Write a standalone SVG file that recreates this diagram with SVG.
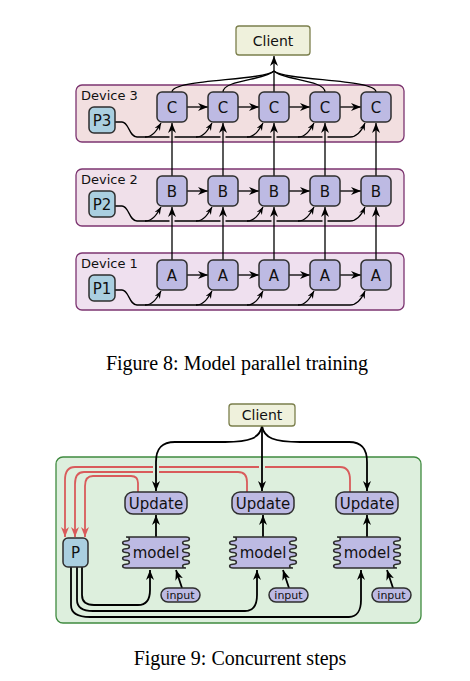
<svg xmlns="http://www.w3.org/2000/svg" width="470" height="681" viewBox="0 0 470 681">
<style>
.node{fill:#bdbae3;stroke:#2e2e2e;stroke-width:1.5}
.pnode{fill:#aacfe0;stroke:#2e2e2e;stroke-width:1.5}
.client{fill:#eff1dc;stroke:#7b7f4c;stroke-width:1.3}
.dev{stroke:#7c3470;stroke-width:1.3}
.lbl{font-family:"DejaVu Sans",sans-serif;fill:#111;text-anchor:middle}
.n15{font-size:15px}
.n14{font-size:14px}
.dl{font-family:"DejaVu Sans",sans-serif;font-size:13px;fill:#111}
.ln{fill:none;stroke:#000;stroke-width:1.3}
.ln2{fill:none;stroke:#000;stroke-width:1.8}
.red{fill:none;stroke:#d95b5b;stroke-width:1.8}
.cap{font-family:"Liberation Serif","Times New Roman",serif;font-size:20px;text-anchor:middle;fill:#000}
</style>
<defs>
<marker id="ah" viewBox="0 0 10 8" refX="10" refY="4" markerWidth="10" markerHeight="8" markerUnits="userSpaceOnUse" orient="auto"><path d="M0,0 L10,4 L0,8 L3,4 z" fill="#000"/></marker>
<marker id="as" viewBox="0 0 10 8" refX="10" refY="4" markerWidth="7.5" markerHeight="6" markerUnits="userSpaceOnUse" orient="auto"><path d="M0,0 L10,4 L0,8 L3,4 z" fill="#000"/></marker>
<marker id="ar" viewBox="0 0 10 8" refX="10" refY="4" markerWidth="10" markerHeight="8" markerUnits="userSpaceOnUse" orient="auto"><path d="M0,0 L10,4 L0,8 L3,4 z" fill="#d95b5b"/></marker>
<path id="modelShape" d="M3.5,0 H63.5 c4.5,0 4.5,3.875 0,3.875 c-4.5,0 -4.5,3.875 0,3.875 c4.5,0 4.5,3.875 0,3.875 c-4.5,0 -4.5,3.875 0,3.875 c4.5,0 4.5,3.875 0,3.875 c-4.5,0 -4.5,3.875 0,3.875 c4.5,0 4.5,3.875 0,3.875 c-4.5,0 -4.5,3.875 0,3.875 H3.5 c-4.5,0 -4.5,-3.875 0,-3.875 c4.5,0 4.5,-3.875 0,-3.875 c-4.5,0 -4.5,-3.875 0,-3.875 c4.5,0 4.5,-3.875 0,-3.875 c-4.5,0 -4.5,-3.875 0,-3.875 c4.5,0 4.5,-3.875 0,-3.875 c-4.5,0 -4.5,-3.875 0,-3.875 c4.5,0 4.5,-3.875 0,-3.875 z"/>
</defs>

<!-- ================= Figure 8 ================= -->
<g id="device3"><rect class="dev" x="76" y="85" width="328" height="57" rx="6" fill="#f2dfe0"/><text class="dl" x="81" y="100">Device 3</text></g>
<g id="device2"><rect class="dev" x="76" y="169" width="328" height="57" rx="6" fill="#f0e0ea"/><text class="dl" x="81" y="184">Device 2</text></g>
<g id="device1"><rect class="dev" x="76" y="253" width="328" height="57" rx="6" fill="#efe0ef"/><text class="dl" x="81" y="268">Device 1</text></g>

<g id="connectors8">
  <path class="ln" d="M115,122 H122 C129,122 129,137 137,137 H350 C358,137 362,130 365,123" marker-end="url(#as)"/>
  <path class="ln" d="M145,137 C153,137 157,130 161,123" marker-end="url(#as)"/>
  <path class="ln" d="M196,137 C204,137 208,130 212,123" marker-end="url(#as)"/>
  <path class="ln" d="M247,137 C255,137 259,130 263,123" marker-end="url(#as)"/>
  <path class="ln" d="M298,137 C306,137 310,130 314,123" marker-end="url(#as)"/>

  <path class="ln" d="M115,206 H122 C129,206 129,221 137,221 H350 C358,221 362,214 365,207" marker-end="url(#as)"/>
  <path class="ln" d="M145,221 C153,221 157,214 161,207" marker-end="url(#as)"/>
  <path class="ln" d="M196,221 C204,221 208,214 212,207" marker-end="url(#as)"/>
  <path class="ln" d="M247,221 C255,221 259,214 263,207" marker-end="url(#as)"/>
  <path class="ln" d="M298,221 C306,221 310,214 314,207" marker-end="url(#as)"/>

  <path class="ln" d="M115,290 H122 C129,290 129,305 137,305 H350 C358,305 362,298 365,291" marker-end="url(#as)"/>
  <path class="ln" d="M145,305 C153,305 157,298 161,291" marker-end="url(#as)"/>
  <path class="ln" d="M196,305 C204,305 208,298 212,291" marker-end="url(#as)"/>
  <path class="ln" d="M247,305 C255,305 259,298 263,291" marker-end="url(#as)"/>
  <path class="ln" d="M298,305 C306,305 310,298 314,291" marker-end="url(#as)"/>

  <path d="M172,133 V141 M223,133 V141 M274,133 V141 M325,133 V141" stroke="#f2dfe0" stroke-width="5" fill="none"/>
  <path d="M172,217 V225 M223,217 V225 M274,217 V225 M325,217 V225" stroke="#f0e0ea" stroke-width="5" fill="none"/>

  <path class="ln" d="M172,260 V207" marker-end="url(#ah)"/>
  <path class="ln" d="M223,260 V207" marker-end="url(#ah)"/>
  <path class="ln" d="M274,260 V207" marker-end="url(#ah)"/>
  <path class="ln" d="M325,260 V207" marker-end="url(#ah)"/>
  <path class="ln" d="M376,260 V207" marker-end="url(#ah)"/>
  <path class="ln" d="M172,176 V123" marker-end="url(#ah)"/>
  <path class="ln" d="M223,176 V123" marker-end="url(#ah)"/>
  <path class="ln" d="M274,176 V123" marker-end="url(#ah)"/>
  <path class="ln" d="M325,176 V123" marker-end="url(#ah)"/>
  <path class="ln" d="M376,176 V123" marker-end="url(#ah)"/>

  <path class="ln" d="M187,107 H208" marker-end="url(#ah)"/>
  <path class="ln" d="M238,107 H259" marker-end="url(#ah)"/>
  <path class="ln" d="M289,107 H310" marker-end="url(#ah)"/>
  <path class="ln" d="M340,107 H361" marker-end="url(#ah)"/>
  <path class="ln" d="M187,191 H208" marker-end="url(#ah)"/>
  <path class="ln" d="M238,191 H259" marker-end="url(#ah)"/>
  <path class="ln" d="M289,191 H310" marker-end="url(#ah)"/>
  <path class="ln" d="M340,191 H361" marker-end="url(#ah)"/>
  <path class="ln" d="M187,275 H208" marker-end="url(#ah)"/>
  <path class="ln" d="M238,275 H259" marker-end="url(#ah)"/>
  <path class="ln" d="M289,275 H310" marker-end="url(#ah)"/>
  <path class="ln" d="M340,275 H361" marker-end="url(#ah)"/>

  <path class="ln" d="M172,92 C172,79 262,81 274,71"/>
  <path class="ln" d="M223,92 C223,80 266,80 274,71"/>
  <path class="ln" d="M325,92 C325,80 282,80 274,71"/>
  <path class="ln" d="M376,92 C376,79 286,81 274,71"/>
  <path class="ln" d="M274,92 V56" marker-end="url(#ah)"/>
</g>

<g id="client8"><rect class="client" x="236" y="26" width="74" height="29" rx="3"/><text class="lbl n14" x="273" y="46">Client</text></g>

<g id="P3"><rect class="pnode" x="89" y="107" width="26" height="26" rx="5"/><text class="lbl n15" x="102" y="125.5">P3</text></g>
<g id="P2"><rect class="pnode" x="89" y="191" width="26" height="26" rx="5"/><text class="lbl n15" x="102" y="209.5">P2</text></g>
<g id="P1"><rect class="pnode" x="89" y="275" width="26" height="26" rx="5"/><text class="lbl n15" x="102" y="293.5">P1</text></g>

<g id="C1"><rect class="node" x="157" y="92" width="30" height="30" rx="5"/><text class="lbl n15" x="172" y="112.5">C</text></g>
<g id="C2"><rect class="node" x="208" y="92" width="30" height="30" rx="5"/><text class="lbl n15" x="223" y="112.5">C</text></g>
<g id="C3"><rect class="node" x="259" y="92" width="30" height="30" rx="5"/><text class="lbl n15" x="274" y="112.5">C</text></g>
<g id="C4"><rect class="node" x="310" y="92" width="30" height="30" rx="5"/><text class="lbl n15" x="325" y="112.5">C</text></g>
<g id="C5"><rect class="node" x="361" y="92" width="30" height="30" rx="5"/><text class="lbl n15" x="376" y="112.5">C</text></g>

<g id="B1"><rect class="node" x="157" y="176" width="30" height="30" rx="5"/><text class="lbl n15" x="172" y="196.5">B</text></g>
<g id="B2"><rect class="node" x="208" y="176" width="30" height="30" rx="5"/><text class="lbl n15" x="223" y="196.5">B</text></g>
<g id="B3"><rect class="node" x="259" y="176" width="30" height="30" rx="5"/><text class="lbl n15" x="274" y="196.5">B</text></g>
<g id="B4"><rect class="node" x="310" y="176" width="30" height="30" rx="5"/><text class="lbl n15" x="325" y="196.5">B</text></g>
<g id="B5"><rect class="node" x="361" y="176" width="30" height="30" rx="5"/><text class="lbl n15" x="376" y="196.5">B</text></g>

<g id="A1"><rect class="node" x="157" y="260" width="30" height="30" rx="5"/><text class="lbl n15" x="172" y="280.5">A</text></g>
<g id="A2"><rect class="node" x="208" y="260" width="30" height="30" rx="5"/><text class="lbl n15" x="223" y="280.5">A</text></g>
<g id="A3"><rect class="node" x="259" y="260" width="30" height="30" rx="5"/><text class="lbl n15" x="274" y="280.5">A</text></g>
<g id="A4"><rect class="node" x="310" y="260" width="30" height="30" rx="5"/><text class="lbl n15" x="325" y="280.5">A</text></g>
<g id="A5"><rect class="node" x="361" y="260" width="30" height="30" rx="5"/><text class="lbl n15" x="376" y="280.5">A</text></g>

<text class="cap" x="237" y="370">Figure 8: Model parallel training</text>

<!-- ================= Figure 9 ================= -->
<g id="panel9"><rect x="56" y="457" width="365" height="166" rx="7" fill="#ddefdd" stroke="#3f8a3f" stroke-width="1.3"/></g>

<g id="connectors9">
  <path class="red" d="M350,492 V480 C350,472 347,467 340,467 H75 C68,467 65,472 65,480 V537" marker-end="url(#ar)"/>
  <path class="red" d="M247,492 V482 C247,476 244,472 238,472 H84 C78,472 75,476 75,484 V537" marker-end="url(#ar)"/>
  <path class="red" d="M138,492 V483 C138,478 136,476 131,476 H93 C88,476 85,479 85,486 V537" marker-end="url(#ar)"/>
  <path d="M156,461 V488 M262,461 V488" stroke="#ddefdd" stroke-width="6" fill="none"/>
  <path class="ln2" d="M262,426 C260,438 250,442 225,442 H175 C161,442 156,449 156,462 V491" marker-end="url(#ah)"/>
  <path class="ln2" d="M262,426 V491" marker-end="url(#ah)"/>
  <path class="ln2" d="M262,426 C264,438 274,442 300,442 H349 C362,442 367,449 367,462 V491" marker-end="url(#ah)"/>
  <path class="ln2" d="M156,537 V515" marker-end="url(#ah)"/>
  <path class="ln2" d="M263,537 V515" marker-end="url(#ah)"/>
  <path class="ln2" d="M367,537 V515" marker-end="url(#ah)"/>
  <path class="ln2" d="M182,588 L176,570" marker-end="url(#ah)"/>
  <path class="ln2" d="M289,588 L283,570" marker-end="url(#ah)"/>
  <path class="ln2" d="M393,588 L387,570" marker-end="url(#ah)"/>
  <path class="ln2" d="M82,567 V595 C82,602 86,605 94,605 H138 C146,605 150,600 150,590 V570" marker-end="url(#ah)"/>
  <path class="ln2" d="M77,567 V600 C77,608 83,611 93,611 H245 C253,611 257,605 257,595 V570" marker-end="url(#ah)"/>
  <path class="ln2" d="M71,567 V605 C71,613 78,617 90,617 H349 C357,617 361,610 361,600 V570" marker-end="url(#ah)"/>
</g>

<g id="client9"><rect class="client" x="229" y="404" width="66" height="22" rx="3"/><text class="lbl n14" x="262" y="420">Client</text></g>

<g id="P"><rect class="pnode" x="63" y="538" width="25" height="29" rx="5"/><text class="lbl n15" x="75.5" y="558">P</text></g>

<g id="update1"><rect class="node" x="125" y="492" width="62" height="22" rx="8"/><text class="lbl n15" x="156" y="508.5">Update</text></g>
<g id="update2"><rect class="node" x="232" y="492" width="62" height="22" rx="8"/><text class="lbl n15" x="263" y="508.5">Update</text></g>
<g id="update3"><rect class="node" x="336" y="492" width="62" height="22" rx="8"/><text class="lbl n15" x="367" y="508.5">Update</text></g>

<g id="model1"><use href="#modelShape" x="122.5" y="537" class="node"/><text class="lbl n15" x="156" y="557.5">model</text></g>
<g id="model2"><use href="#modelShape" x="229.5" y="537" class="node"/><text class="lbl n15" x="263" y="557.5">model</text></g>
<g id="model3"><use href="#modelShape" x="333.5" y="537" class="node"/><text class="lbl n15" x="367" y="557.5">model</text></g>

<g id="input1"><rect class="node" x="161" y="588" width="39" height="14" rx="7"/><text class="lbl" font-size="11" x="180.5" y="598.5">input</text></g>
<g id="input2"><rect class="node" x="269" y="588" width="39" height="14" rx="7"/><text class="lbl" font-size="11" x="288.5" y="598.5">input</text></g>
<g id="input3"><rect class="node" x="372" y="588" width="39" height="14" rx="7"/><text class="lbl" font-size="11" x="391.5" y="598.5">input</text></g>

<text class="cap" x="240" y="665">Figure 9: Concurrent steps</text>
</svg>
